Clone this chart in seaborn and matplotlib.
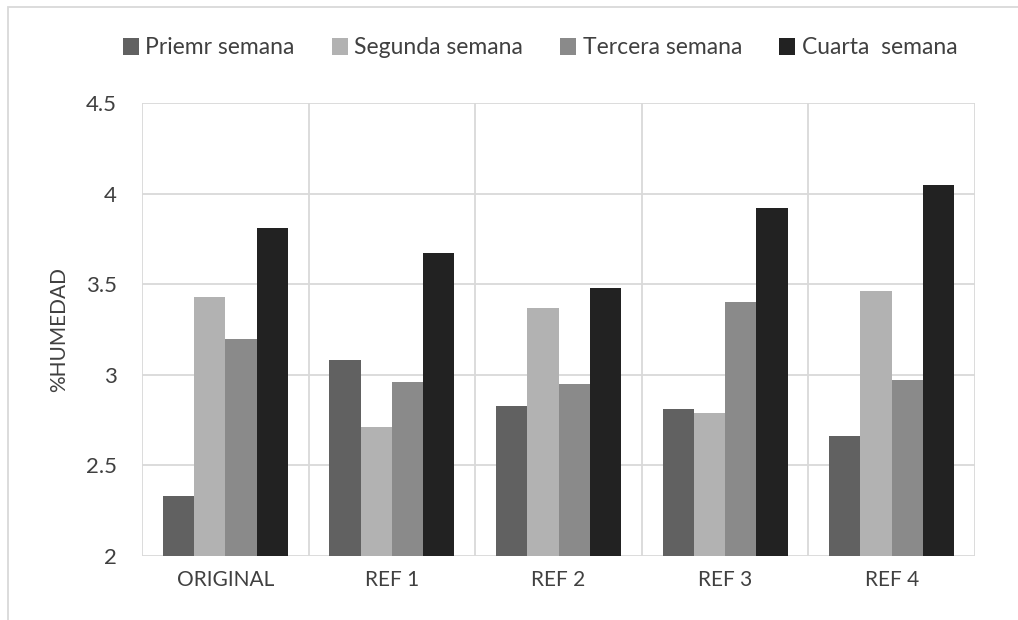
import matplotlib
matplotlib.use("Agg")
import matplotlib.pyplot as plt
import seaborn as sns
import pandas as pd
from matplotlib.patches import Rectangle

categories = ["ORIGINAL", "REF 1", "REF 2", "REF 3", "REF 4"]
series_names = ["Priemr semana", "Segunda semana", "Tercera semana", "Cuarta  semana"]
primera = [2.33, 3.08, 2.83, 2.81, 2.66]
segunda = [3.43, 2.71, 3.37, 2.79, 3.46]
tercera = [3.20, 2.96, 2.95, 3.40, 2.97]
cuarta = [3.81, 3.67, 3.48, 3.92, 4.05]
yticks = [2, 2.5, 3, 3.5, 4, 4.5]
ytick_labels = ["2", "2.5", "3", "3.5", "4", "4.5"]
colors = ["#616161", "#b2b2b2", "#8a8a8a", "#222222"]

rows = []
for name, vals in zip(series_names, [primera, segunda, tercera, cuarta]):
    for c, v in zip(categories, vals):
        rows.append({"cat": c, "serie": name, "val": v})
df = pd.DataFrame(rows)

sns.set_style("white")
plt.rcParams['font.family'] = ['Lato', 'DejaVu Sans']

fig = plt.figure(figsize=(10.18, 6.2), dpi=100)
ax = fig.add_axes([142/1018, 1-556/620, (975-142)/1018, (556-103)/620])

sns.barplot(data=df, x="cat", y="val", hue="serie", palette=colors,
            width=0.75, ax=ax, saturation=1, legend=True, errorbar=None,
            edgecolor="none", linewidth=0)
# bars start at baseline 2
for p in ax.patches:
    h = p.get_height()
    if h > 0:
        p.set_y(2)
        p.set_height(h - 2)

ax.set_ylim(2, 4.5)
ax.set_xlim(-0.5, 4.5)
ax.set_yticks(yticks)
ax.set_yticklabels(ytick_labels)
ax.set_xticks(range(len(categories)))
ax.set_xticklabels(categories)
ax.tick_params(axis="y", length=0, labelsize=16, labelcolor="#404040", pad=18)
ax.tick_params(axis="x", length=0, labelsize=15, labelcolor="#404040", pad=10)
ax.set_xticks([i + 0.5 for i in range(-1, 5)], minor=True)
ax.tick_params(axis="x", which="minor", length=0)
ax.grid(axis="y", color="#d9d9d9", linewidth=1.3)
ax.grid(axis="x", which="minor", color="#d9d9d9", linewidth=1.3)
ax.grid(axis="x", which="major", visible=False)
ax.set_axisbelow(True)
for s in ax.spines.values():
    s.set_visible(False)
ax.set_xlabel("")
ax.set_ylabel("%HUMEDAD", fontsize=15, color="#404040", labelpad=12)

handles, labels = ax.get_legend_handles_labels()
ax.legend(handles, labels, loc="center", bbox_to_anchor=(540/1018, 1-48/620),
          bbox_transform=fig.transFigure, ncol=4, frameon=False, fontsize=16.5,
          handlelength=0.7, handleheight=0.7, handletextpad=0.3, columnspacing=1.6,
          labelcolor="#404040")

fig.patches.append(Rectangle((8/1018, -0.01), 1.1, 1 - 7/620 + 0.01, transform=fig.transFigure,
                             fill=False, edgecolor="#d9d9d9", linewidth=1.3))

fig.savefig("out.png", dpi=100)
